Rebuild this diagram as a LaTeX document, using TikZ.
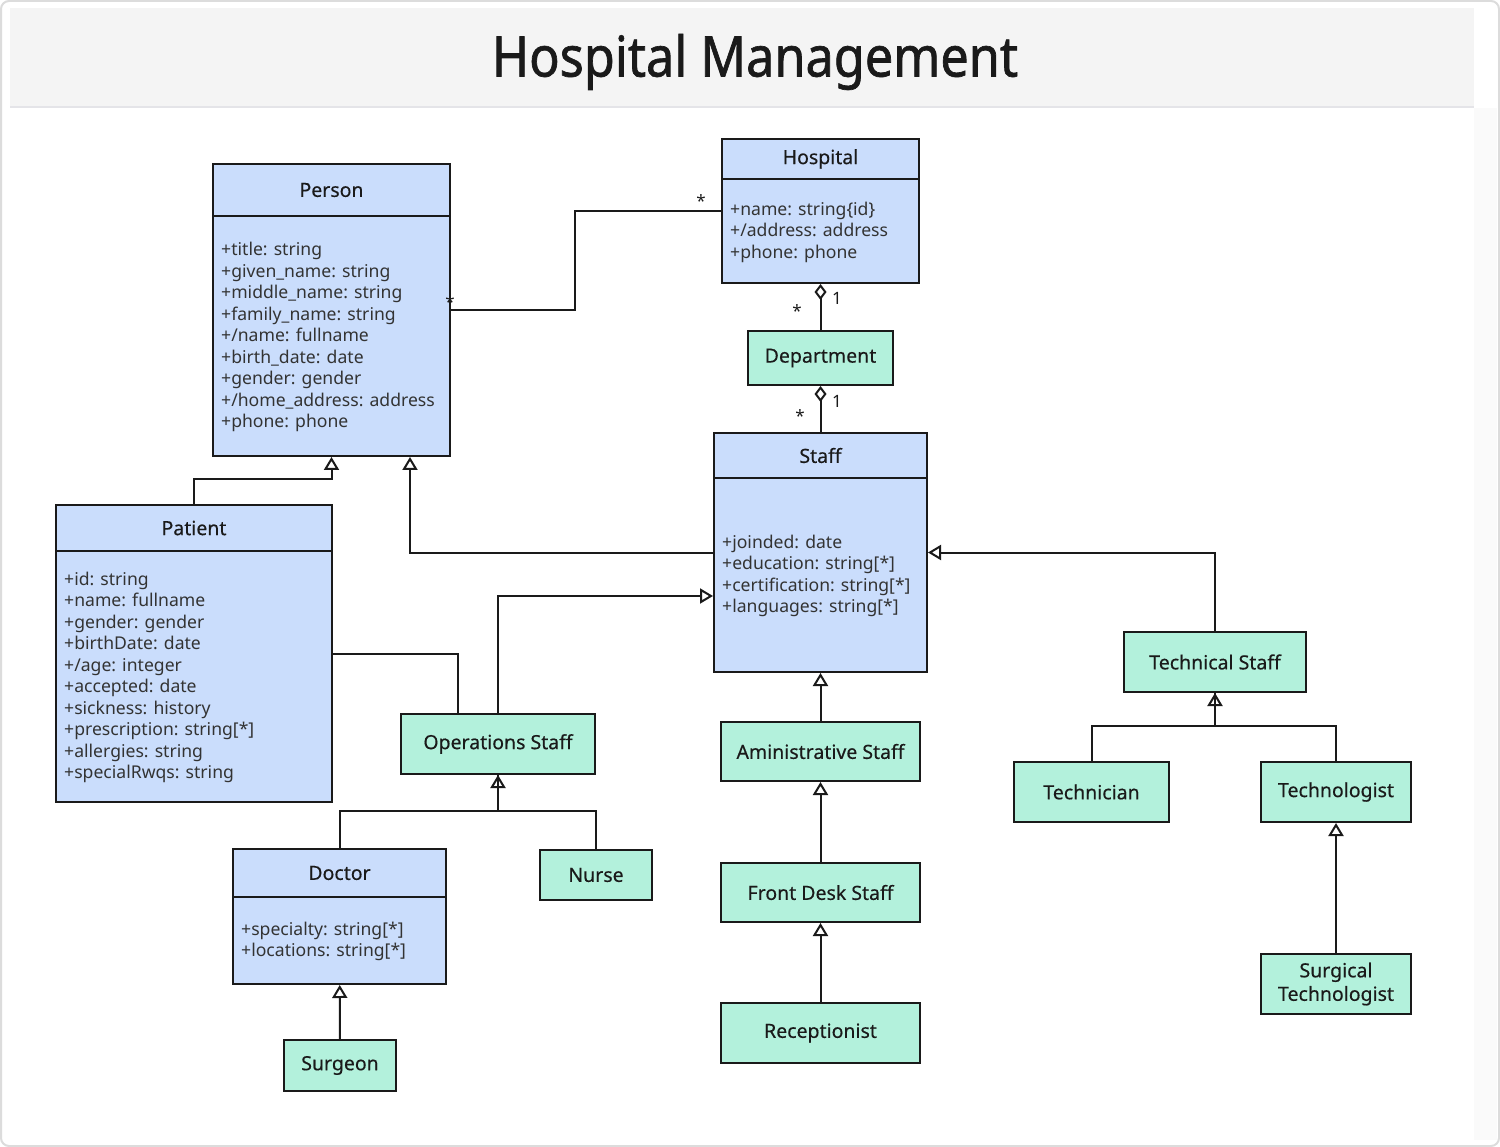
\documentclass[tikz,border=0pt]{standalone}
\usepackage{fontspec}
\setmainfont{Noto Sans}
\newfontfamily\titlefont[FakeStretch=0.9,FakeBold=1.2]{Noto Sans}
\newfontfamily\headfamily[FakeBold=0.35]{Noto Sans}
\usetikzlibrary{arrows.meta,calc}

\definecolor{classblue}{HTML}{CADDFC}
\definecolor{rolegreen}{HTML}{B3F1DC}
\definecolor{linec}{HTML}{1A1A1A}
\definecolor{attrc}{HTML}{333333}
\definecolor{bandgray}{HTML}{F4F4F4}
\definecolor{bandline}{HTML}{E4E4E8}
\definecolor{framegray}{HTML}{DCDCDC}
\definecolor{stripgray}{HTML}{FAFAFA}

\newcommand{\attrfont}{\fontsize{17.6}{21.5}\selectfont}
\newcommand{\headfont}{\headfamily\fontsize{19.5}{23.5}\selectfont}

\tikzstyle{class box} = [draw=linec, fill=classblue, line width=2pt, inner sep=0pt]
\tikzstyle{class head} = [class box, font=\headfont, text=linec]
\tikzstyle{class attr} = [anchor=west, align=left, inner sep=0pt, font=\attrfont, text=attrc]
\tikzstyle{role box} = [draw=linec, fill=rolegreen, line width=2pt, inner sep=0pt, font=\headfont, text=linec, align=center]
\tikzstyle{mult} = [font=\fontsize{17}{17}\selectfont, text=linec, inner sep=0pt]
\tikzstyle{link} = [draw=linec, line width=2pt]
\tikzstyle{inherit} = [link, -{Triangle[open,length=13pt,width=15pt,line width=2pt]}]
\tikzstyle{aggregation} = [link, -{Diamond[open,length=16pt,width=12pt,line width=2pt]}]

\begin{document}
\begin{tikzpicture}[x=1pt, y=-1pt]
    \useasboundingbox (0,0) rectangle (1500,1147);
    % Frame and title band
    \draw[framegray, fill=white, line width=2pt, rounded corners=8pt] (1,1) rectangle (1499,1146);
    \fill[stripgray] (1474,108) rectangle (1497,1140);
    \fill[bandgray] (10,8) rectangle (1474,106);
    \draw[bandline, line width=2pt] (10,107) -- (1474,107);
    \node[font=\titlefont\fontsize{56}{60}\selectfont, text=linec] (title) at (755,62) {Hospital Management};
    % Class boxes with a head and an attribute part
    \foreach \pos/\name/\bw/\bh/\hh/\heading in {
        {(331.5,310)/Person/237/292/52/Person},
        {(820.5,211)/Hospital/197/144/40/Hospital},
        {(820.5,552.5)/Staff/213/239/45/Staff},
        {(194,653.5)/Patient/276/297/46/Patient},
        {(339.5,916.5)/Doctor/213/135/48/Doctor}}
    {
    \node[class box, minimum width=\bw, minimum height=\bh] (\name) at \pos {};
    \node[class head, minimum width=\bw, minimum height=\hh, anchor=north] (\name-head) at (\name.north) {\heading};
    }
    \foreach \name/\attrs in {
        Person/{+title: string\\+given\_name: string\\+middle\_name: string\\+family\_name: string\\+/name: fullname\\+birth\_date: date\\+gender: gender\\+/home\_address: address\\+phone: phone},
        Hospital/{+name: string\{id\}\\+/address: address\\+phone: phone},
        Staff/{+joinded: date\\+education: string[*]\\+certification: string[*]\\+languages: string[*]},
        Patient/{+id: string\\+name: fullname\\+gender: gender\\+birthDate: date\\+/age: integer\\+accepted: date\\+sickness: history\\+prescription: string[*]\\+allergies: string\\+specialRwqs: string},
        Doctor/{+specialty: string[*]\\+locations: string[*]}}
    \node[class attr] (\name-attrs) at ($(\name-head.south west)!0.5!(\name.south west)+(9,0)$) {\attrs};
    % Role boxes
    \foreach \pos/\name/\bw/\bh/\boxtext in {
        {(820.5,358)/Department/145/54/Department},
        {(498,744)/Operations/194/60/Operations Staff},
        {(820.5,751.5)/Administrative/199/59/Aministrative Staff},
        {(820.5,892.5)/FrontDesk/199/59/Front Desk Staff},
        {(820.5,1033)/Receptionist/199/60/Receptionist},
        {(1215,662)/Technical/182/60/Technical Staff},
        {(1091.5,792)/Technician/155/60/Technician},
        {(1336,792)/Technologist/150/60/Technologist},
        {(1336,984)/SurgicalTech/150/60/Surgical\\Technologist},
        {(596,875)/Nurse/112/50/Nurse},
        {(340,1065.5)/Surgeon/112/51/Surgeon}}
    \node[role box, minimum width=\bw, minimum height=\bh] (\name) at \pos {\boxtext};
    % Associations and aggregations
    \path[link] (Person.east) -- ++(124,0) |- (Hospital.west);
    \path[aggregation] (Department.north) -- (Hospital.south);
    \path[aggregation] (Staff.north) -- (Department.south);
    \path[link] (Patient.east) -| ([xshift=-40pt]Operations.north);
    \foreach \pos/\name/\txt in {
        {(701,201)/multHospPerson/*},{(450,302)/multPersonHosp/*},
        {(837,298)/multHospOne/1},{(797,311)/multDeptMany/*},
        {(837,401)/multDeptOne/1},{(800,416)/multStaffMany/*}}
    \node[mult] (\name) at \pos {\txt};
    % Generalizations
    \path[inherit] (Patient.north) -- ++(0,-25) -| (Person.south);
    \path[inherit] (Staff.west) -| ([xshift=78.5pt]Person.south);
    \path[inherit] (Operations.north) |- ([yshift=-43.5pt]Staff.west);
    \path[inherit] (Technical.north) |- (Staff.east);
    \path[link] (Technologist.north) -- ++(0,-35) -| (Technical.south);
    \path[link] (Nurse.north) -- ++(0,-38) -| (Operations.south);
    \foreach \source/\dest/\barh in {
        Technician/Technical/35, Doctor/Operations/37}
    \path[inherit] (\source.north) -- ++(0,-\barh) -| (\dest.south);
    \foreach \source/\dest in {
        Administrative/Staff, FrontDesk/Administrative, Receptionist/FrontDesk,
        SurgicalTech/Technologist, Surgeon/Doctor}
    \path[inherit] (\source) -- (\dest);
\end{tikzpicture}
\end{document}
